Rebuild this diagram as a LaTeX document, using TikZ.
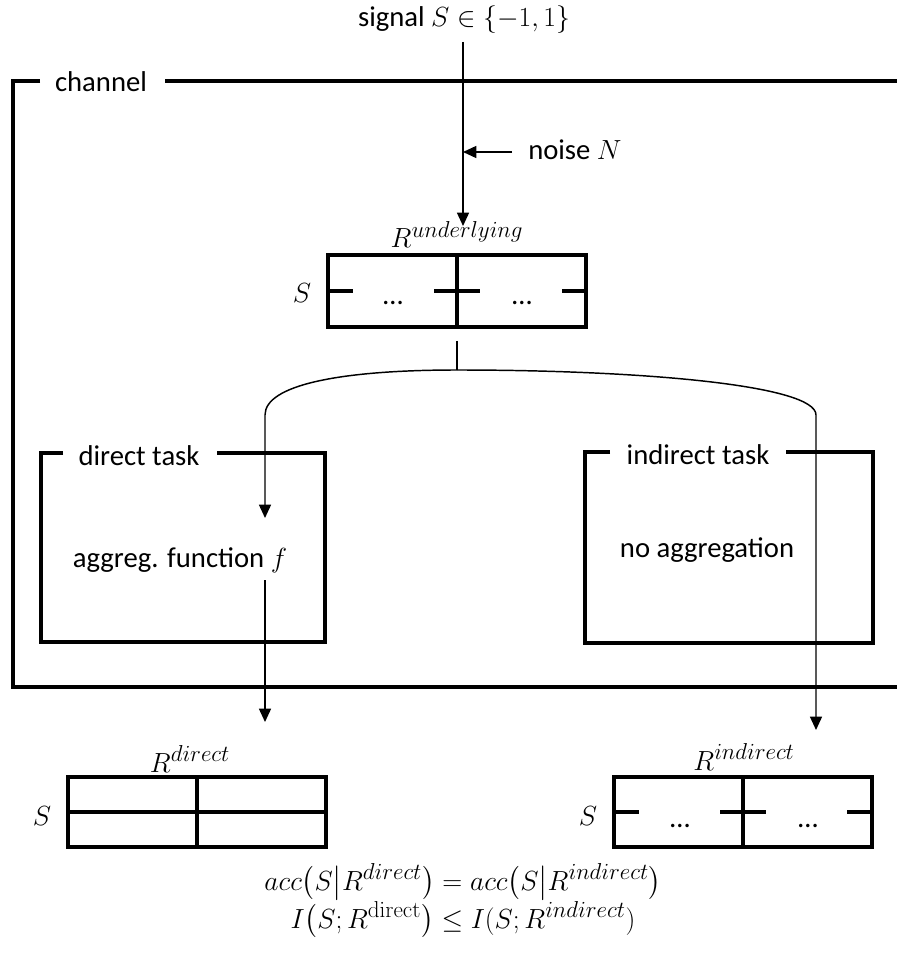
\documentclass[tikz,border=0pt]{standalone}
\usepackage{amsmath}
\usepackage[no-math]{fontspec}
\setmainfont{Carlito}
\DeclareMathSizes{21.5}{21.5}{17}{13}
\usetikzlibrary{arrows.meta}
\begin{document}
\begin{tikzpicture}[x=0.75pt,y=-0.75pt,
  every node/.style={font=\fontsize{21.5}{26}\selectfont, inner sep=0pt},
  frame/.style={line width=3.2pt, line join=miter},
  tbl/.style={line width=2.3pt, line join=miter},
  wire/.style={line width=1.1pt},
  arr/.style={wire, -{Triangle[width=9pt,length=10pt]}},
  txt/.style={anchor=base}
]
\useasboundingbox (0,0) rectangle (896,969);

% ---------- input signal and noise ----------
\node[txt] (sig) at (464,27) {signal $S\in\{-1,1\}$};
\coordinate (sigtop) at (463,42);
\coordinate (utip) at (463,226);
\draw[arr] (sigtop) -- (utip);
\node[txt, anchor=base west] (noise) at (528,160) {noise $N$};
\coordinate (nstart) at (512,152);
\coordinate (njoin) at (463,152);
\draw[arr] (nstart) -- (njoin);

% ---------- channel frame ----------
\node[txt] (chan) at (101,92) {channel};
\draw[frame] (40,81) -| (13,687) -- (905,687);
\draw[frame] (165,81) -- (905,81);

% ---------- underlying representation ----------
\node[txt] (ulab) at (457,248) {$R^{underlying}$};
\node[txt] (uS) at (302,303) {$S$};
\draw[tbl] (328,255) rectangle (586,327);
\draw[tbl] (457,255) -- (457,327);
\draw[tbl] (328,291) -- (353,291) (434,291) -- (480,291) (562,291) -- (586,291);
\node[txt] (ud1) at (393,305) {…};
\node[txt] (ud2) at (522,305) {…};

% ---------- split into the two tasks ----------
\coordinate (b0) at (457,341);
\coordinate (b1) at (457,370);
\coordinate (dtip) at (265,518);
\coordinate (itip) at (816,730);
\draw[wire] (b0) -- (b1);
\draw[arr] (b1) .. controls (340,370) and (265,385) .. (265,415) -- (dtip);
\draw[arr] (b1) .. controls (640,370) and (816,385) .. (816,415) -- (itip);

% ---------- direct task ----------
\node[txt] (dtask) at (139,465) {direct task};
\draw[frame] (63,453) -| (41,642) -| (325,453) -- (217,453);
\node[txt] (agg) at (180,567) {aggreg. function $f$};
\coordinate (dout) at (265,580);
\coordinate (dtip2) at (265,722);
\draw[arr] (dout) -- (dtip2);

% ---------- indirect task ----------
\node[txt] (itask) at (698,464) {indirect task};
\draw[frame] (610,452) -| (585,643) -| (873,452) -- (786,452);
\node[txt] (noagg) at (707,557) {no aggregation};

% ---------- direct representation ----------
\node[txt] (dlab) at (190,772) {$R^{direct}$};
\node[txt] (dS) at (42,825) {$S$};
\draw[tbl] (68,777) rectangle (326,847);
\draw[tbl] (197,777) -- (197,847);
\draw[tbl] (68,812) -- (326,812);

% ---------- indirect representation ----------
\node[txt] (ilab) at (744,770) {$R^{indirect}$};
\node[txt] (iS) at (588,825) {$S$};
\draw[tbl] (614,777) rectangle (872,847);
\draw[tbl] (743,777) -- (743,847);
\draw[tbl] (614,812) -- (639,812) (720,812) -- (766,812) (847,812) -- (872,812);
\node[txt] (id1) at (680,827) {…};
\node[txt] (id2) at (808,827) {…};

% ---------- relations ----------
\node[txt] (eq1) at (463,890) {$acc\bigl(S\big|R^{direct}\bigr)=acc\bigl(S\big|R^{indirect}\bigr)$};
\node[txt] (eq2) at (463,928) {$I\bigl(S;R^{\mathrm{direct}}\bigr)\le I(S;R^{indirect})$};
\end{tikzpicture}
\end{document}
